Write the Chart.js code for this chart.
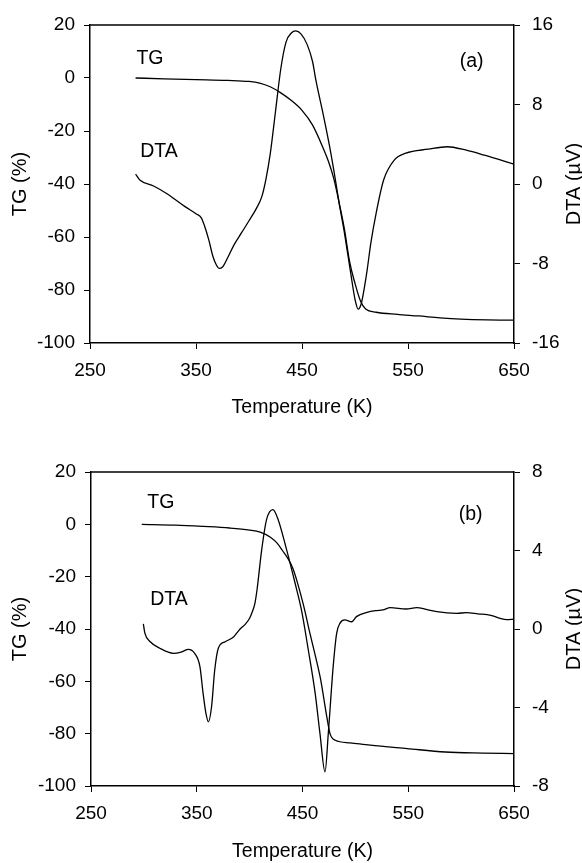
<!DOCTYPE html>
<html>
<head>
<meta charset="utf-8">
<script src="https://cdn.jsdelivr.net/npm/chart.js@4.4.0/dist/chart.umd.min.js"></script>
<style>
  html, body { margin: 0; padding: 0; background: #fff; width: 582px; height: 863px; overflow: hidden; }
  #wrap { position: relative; width: 582px; height: 863px; overflow: hidden; }
  .panel { position: absolute; left: 0; width: 582px; }
</style>
</head>
<body>
<div id="wrap">
  <div class="panel" style="top:0"><canvas id="chartA" width="582" height="430"></canvas></div>
  <div class="panel" style="top:430px"><canvas id="chartB" width="582" height="445"></canvas></div>
</div>
<script>
// ====== DATA ======
const xTicks = [250, 350, 450, 550, 650];

// panel (a)
const tempTGa = [293, 320, 350, 380, 400, 410, 420, 430, 440, 450, 460, 470, 475, 480, 485, 490, 495, 500, 505, 510, 520, 540, 560, 580, 600, 625, 650];
const tgA = [0, -0.3, -0.6, -0.9, -1.3, -1.9, -3.3, -5.6, -8.5, -12.2, -17.8, -26.5, -31.5, -38, -47, -57, -69.5, -77.5, -84, -87.2, -88.4, -89.2, -89.8, -90.5, -91, -91.3, -91.4];
const tempDTAa = [293, 297, 310, 323, 340, 350, 355, 358, 362, 366, 369, 372, 375, 380, 386, 393, 400, 407, 412, 416, 420, 425, 430, 435, 440, 444, 449, 455, 460, 463, 470, 476, 482, 485, 490, 496, 500, 503, 506, 511, 515, 520, 527, 537, 548, 569, 587, 605, 622, 650];
const dtaA = [1.0, 0.4, -0.2, -1.0, -2.3, -3.0, -3.4, -4.2, -5.6, -7.3, -8.1, -8.5, -8.35, -7.4, -6.1, -4.9, -3.7, -2.45, -1.3, 0.5, 3.0, 7.3, 11.6, 14.3, 15.2, 15.4, 15.1, 14.0, 12.3, 10.5, 7.0, 3.8, 0.1, -1.9, -4.9, -9.0, -11.6, -12.6, -12.0, -9.0, -5.9, -2.9, 0.4, 2.4, 3.1, 3.5, 3.75, 3.4, 2.9, 2.0];

// panel (b)
const tempTGb = [298, 330, 356, 381, 400, 410, 420, 426, 431, 437, 441, 445, 451, 457, 462, 467, 473, 476, 481, 495, 514, 549, 585, 620, 650];
const tgB = [0, -0.3, -0.8, -1.4, -2.2, -3.0, -5.0, -7.2, -10, -13.6, -17, -22, -31, -41.6, -50, -59, -73.6, -80, -82.5, -83.5, -84.4, -85.7, -87, -87.4, -87.6];
const tempDTAb = [299.5, 301, 306, 315, 328, 336, 342, 348, 353, 356, 358.7, 361, 364, 367, 370.4, 377, 385, 391, 396, 400, 402, 405, 407, 411.4, 416, 422, 427, 435, 443, 449, 455.5, 462, 466.5, 471.3, 474.4, 479, 482.3, 485.5, 490, 496.5, 501, 511, 520, 526, 533, 548, 558, 567, 577, 596, 605, 616, 628, 637, 643, 650];
const dtaB = [0.26, -0.22, -0.65, -0.98, -1.24, -1.16, -1.04, -1.24, -1.92, -3.28, -4.3, -4.73, -3.96, -2.09, -0.98, -0.65, -0.39, 0.0, 0.25, 0.55, 0.8, 1.31, 2.0, 4.03, 5.57, 6.08, 5.57, 4.03, 2.33, 0.97, -1.07, -3.28, -5.32, -7.28, -5.32, -1.92, -0.22, 0.3, 0.46, 0.37, 0.63, 0.85, 0.94, 0.97, 1.09, 1.02, 1.09, 1.0, 0.88, 0.8, 0.83, 0.77, 0.7, 0.54, 0.48, 0.5];
// ========================================

const FONT = "'Liberation Sans', Arial, Helvetica, sans-serif";

const zip = (xs, ys) => xs.map((x, i) => ({ x, y: ys[i] }));

// frame top line + in-plot labels + right axis title (reads bottom-to-top)
const annotate = {
  id: "annotate",
  afterDraw(chart, args, opts) {
    const { ctx, chartArea, scales } = chart;
    ctx.save();
    ctx.strokeStyle = "#000";
    ctx.lineWidth = 1.6;
    ctx.beginPath();
    ctx.moveTo(chartArea.left, chartArea.top);
    ctx.lineTo(chartArea.right, chartArea.top);
    ctx.stroke();

    ctx.fillStyle = "#000";
    ctx.font = "19.5px " + FONT;
    ctx.textAlign = "center";
    ctx.textBaseline = "middle";
    for (const l of opts.labels) {
      ctx.fillText(l.text, scales.x.getPixelForValue(l.x), scales.y.getPixelForValue(l.y));
    }

    ctx.font = "20px " + FONT;
    ctx.translate(574, (chartArea.top + chartArea.bottom) / 2);
    ctx.rotate(-Math.PI / 2);
    ctx.fillText("DTA (\u00b5V)", 0, 0);
    ctx.restore();
  },
};

function makePanel(id, tg, dta, dtaRange, box, labels) {
  const tickFont = { family: FONT, size: 19 };
  const axisGrid = { display: true, drawOnChartArea: false, drawTicks: true, tickLength: 6, color: "#000", lineWidth: 1 };
  const axisBorder = { display: true, color: "#000", width: 1.5 };

  new Chart(document.getElementById(id), {
    type: "line",
    data: {
      datasets: [
        { label: "TG", data: tg, yAxisID: "y" },
        { label: "DTA", data: dta, yAxisID: "y2" },
      ],
    },
    options: {
      responsive: false,
      animation: false,
      parsing: false,
      layout: { padding: { top: box.top, left: 0, right: 0, bottom: 0 } },
      elements: {
        line: { borderColor: "#000", borderWidth: 1.3, cubicInterpolationMode: "monotone", fill: false },
        point: { radius: 0 },
      },
      plugins: {
        legend: { display: false },
        tooltip: { enabled: false },
        annotate: { labels },
      },
      scales: {
        x: {
          type: "linear",
          min: 250,
          max: 650,
          afterBuildTicks: (s) => { s.ticks = xTicks.map((v) => ({ value: v })); },
          afterFit: (s) => { s.height = box.axisH; },
          ticks: { color: "#000", font: tickFont, padding: 10.5, maxRotation: 0, autoSkip: false },
          grid: axisGrid,
          border: axisBorder,
          title: { display: true, text: "Temperature (K)", color: "#000", font: { family: FONT, size: 19.5 }, padding: { top: 0, bottom: box.titlePad } },
        },
        y: {
          position: "left",
          min: -100,
          max: 20,
          afterFit: (s) => { s.width = box.left; },
          ticks: { stepSize: 20, color: "#000", font: tickFont, padding: 9 },
          grid: axisGrid,
          border: axisBorder,
          title: { display: true, text: "TG (%)", color: "#000", font: { family: FONT, size: 20 }, padding: { top: 8, bottom: 0 } },
        },
        y2: {
          position: "right",
          min: dtaRange[0],
          max: dtaRange[1],
          afterFit: (s) => { s.width = 582 - 514; },
          ticks: { stepSize: dtaRange[2], color: "#000", font: tickFont, padding: 12 },
          grid: axisGrid,
          border: axisBorder,
        },
      },
    },
    plugins: [annotate],
  });
}

makePanel("chartA", zip(tempTGa, tgA), zip(tempDTAa, dtaA), [-16, 16, 8],
  { top: 25, axisH: 87, left: 90, titlePad: 10.3 }, [
  { text: "TG", x: 306.6, y: 7.2 },
  { text: "DTA", x: 315.1, y: -27.9 },
  { text: "(a)", x: 610, y: 6.2 },
]);

makePanel("chartB", zip(tempTGb, tgB), zip(tempDTAb, dtaB), [-8, 8, 4],
  { top: 42, axisH: 89, left: 91, titlePad: 11.3 }, [
  { text: "TG", x: 316, y: 8.2 },
  { text: "DTA", x: 323.8, y: -28.9 },
  { text: "(b)", x: 609, y: 3.6 },
]);
</script>
</body>
</html>
